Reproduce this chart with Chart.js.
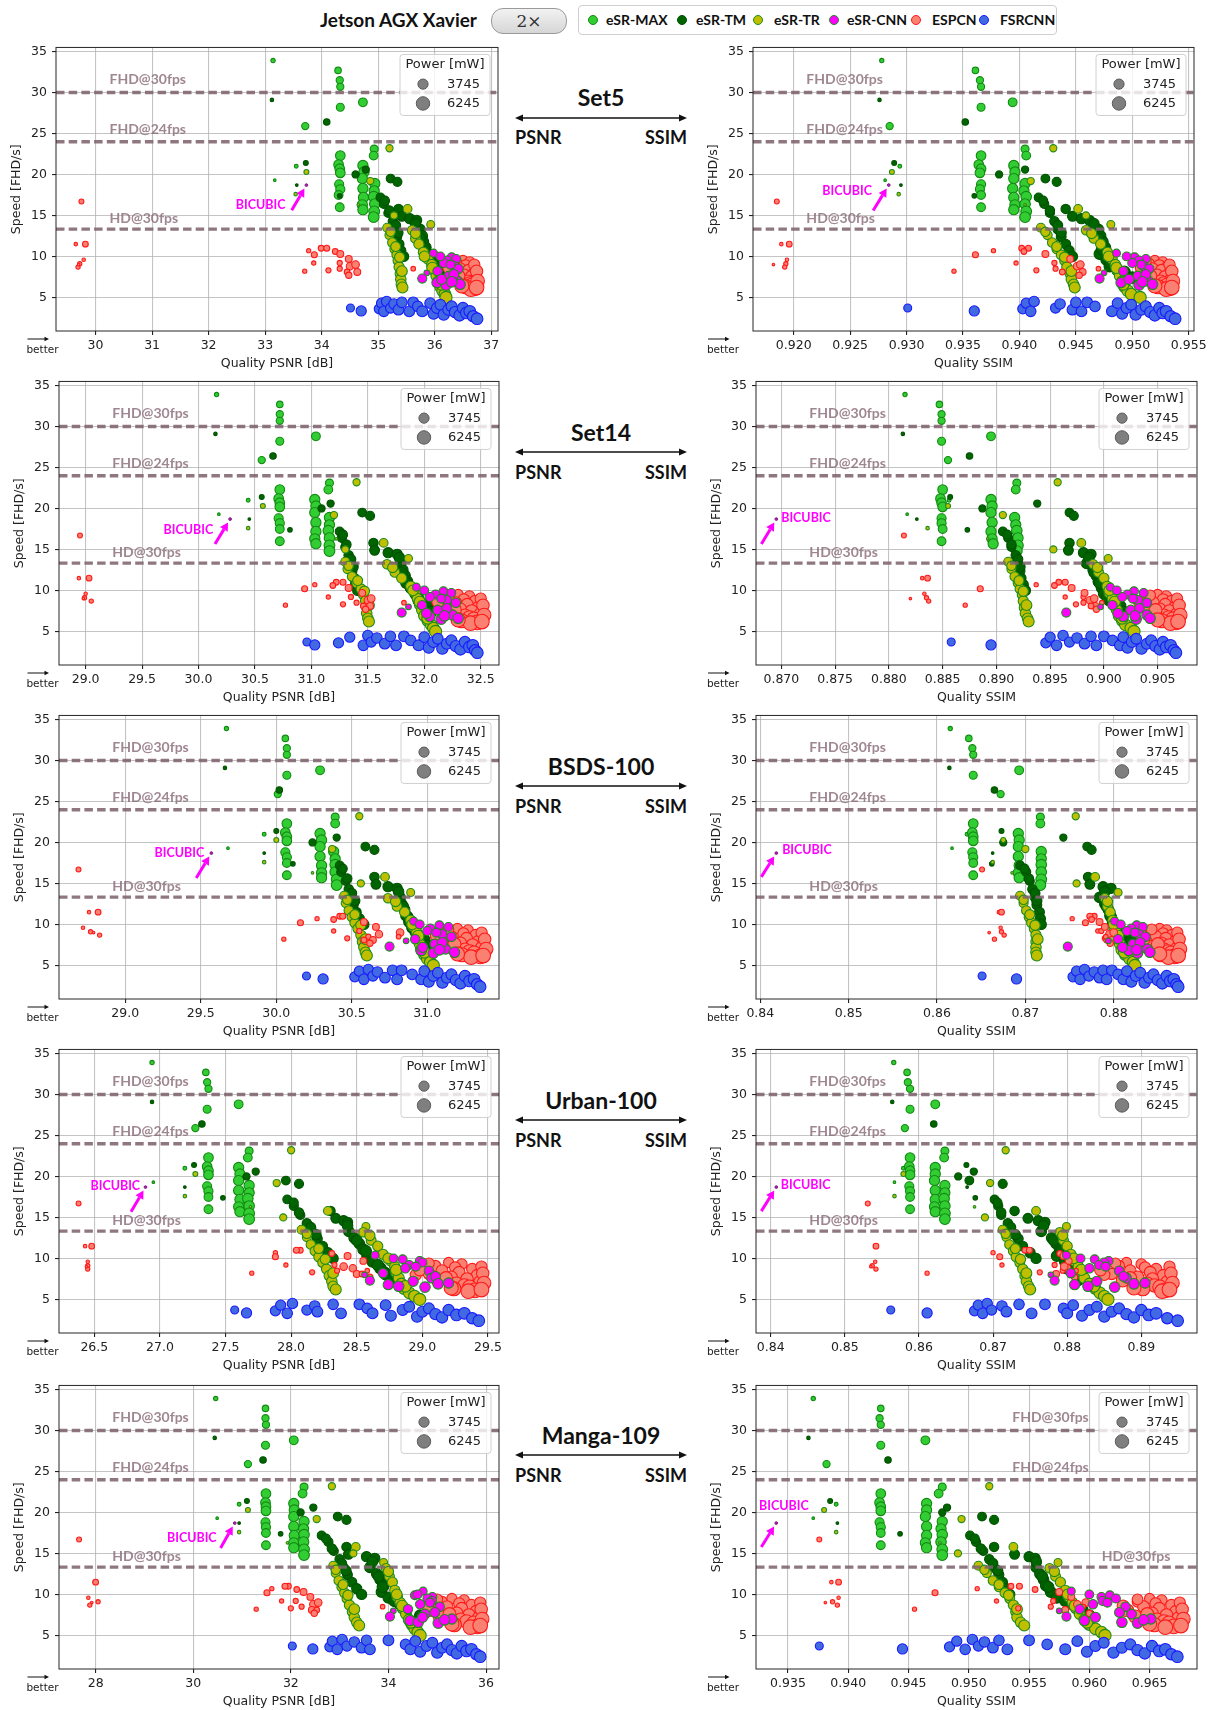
<!DOCTYPE html>
<html>
<head>
<meta charset="utf-8">
<script src="https://cdn.jsdelivr.net/npm/chart.js@4.4.1/dist/chart.umd.min.js"></script>
<style>
  body { margin:0; background:#fff; width:1211px; height:1710px; position:relative; overflow:hidden; font-family:Lato, sans-serif; }
  .abs { position:absolute; white-space:nowrap; }
  .hdr { font-weight:700; font-size:19px; color:#111; }
  .pill { border:1px solid #9a9a9a; border-radius:12px; background:linear-gradient(#f2f2f2,#d6d6d6);
          font-family:'DejaVu Serif', serif; font-size:17px; color:#333; text-align:center; line-height:24px; }
  .lgbox { border:1px solid #cfcfcf; border-radius:4px; background:#fff; }
  .lgdot { width:8px; height:8px; border-radius:50%; }
  .lgtxt { font-weight:700; font-size:14px; color:#111; line-height:18px; }
  .dsname { font-weight:700; font-size:23px; color:#111; }
  .metric { font-weight:700; font-size:18px; color:#111; }
</style>
</head>
<body>
<script>
// speed [FHD/s] and power [mW] of every configuration (same on all test sets)
const SPEED_MAX = [33.9, 32.7, 31.5, 30.7, 28.2, 28.8, 25.9, 21.0, 19.3,
  22.3, 21.2, 20.7, 20.2, 18.8, 18.2, 17.5, 16.0,
  21.1, 20.3, 19.5, 18.3, 17.2, 16.3, 15.7,
  23.1, 22.3, 18.9, 18.0, 17.3, 16.4, 15.5, 14.8];
const POWER_MAX = [830, 1680, 2000, 2000, 2400, 2840, 2000, 690, 290,
  3380, 3380, 3380, 3380, 3030, 3030, 2840, 2840,
  3745, 3745, 3745, 3745, 3745, 3745, 3745,
  2400, 2840, 3745, 3745, 3970, 3970, 4130, 4130];

const SPEED_TM = [29.1, 26.4, 21.4, 18.7, 20.0, 20.6, 17.4, 19.5, 19.1,
  17.2, 16.4, 15.3, 14.3, 13.3, 12.4, 11.5, 10.7, 10.0,
  15.8, 14.9, 14.6, 14.4, 13.3, 12.5, 11.8, 11.1, 10.3, 9.6, 8.8, 8.3, 8.1, 7.4,
  16.8, 15.6, 13.8, 12.9, 14.0, 12.2, 10.9, 9.2];
const POWER_TM = [600, 1680, 1050, 410, 2000, 2000, 940, 2840, 3030,
  2840, 3030, 3030, 3240, 3240, 3520, 3520, 3745, 3745,
  3240, 3520, 3745, 3745, 3970, 3970, 3970, 4290, 4290, 4290, 4530, 4530, 4780, 4780,
  3030, 3240, 3520, 3745, 3970, 4130, 4290, 4530];

const SPEED_TR = [20.3, 17.6, 16.3, 23.2, 19.2, 15.8, 13.9, 15.0,
  13.5, 12.6, 11.7, 10.9, 10.2, 9.5, 8.7, 7.9, 7.2, 6.6, 6.2,
  13.2, 12.2, 11.5, 10.5, 9.7, 9.0, 8.3, 7.6, 6.9, 6.3, 5.8, 5.4, 5.0,
  13.0, 11.2, 9.9, 8.2, 12.8, 10.0, 8.6, 6.6];
const POWER_TR = [1050, 600, 270, 2000, 2000, 2840, 2400, 2000,
  3030, 3030, 3240, 3240, 3520, 3520, 3745, 3745, 3970, 3970, 4290,
  3240, 3520, 3745, 3745, 3970, 3970, 4290, 4290, 4530, 4530, 4780, 4780, 5130,
  3240, 3520, 3745, 4130, 3745, 4130, 4530, 4780];

const SPEED_CNN = [10.4, 9.9, 9.7, 9.5, 9.2, 8.8, 8.5, 8.0, 7.6, 7.3, 7.0, 6.8, 6.6, 6.5,
  10.0, 9.0, 8.2, 7.8, 7.2, 6.9];
const POWER_CNN = [2400, 2840, 2840, 3030, 3030, 3240, 3240, 1350, 3520, 3030, 3745, 3745, 3970, 3970,
  2840, 3030, 3240, 3520, 3745, 3970];

const SPEED_ESPCN = [16.7, 11.5, 11.5, 9.6, 9.1, 8.7, 9.0,
  8.2, 10.7, 10.2, 9.2, 11.0, 11.0, 8.3, 10.6, 10.3, 9.2, 8.5, 9.7, 8.8, 9.0, 8.1, 8.1, 7.7,
  8.5,
  9.5, 9.3, 9.1, 8.9, 8.7, 8.5, 8.3, 8.1, 7.9, 7.7, 7.5, 7.3, 7.1, 6.9, 6.7, 6.5, 6.3, 6.1, 6.0, 8.0,
  9.4, 9.0, 8.6, 8.2, 7.6, 7.0, 6.4, 6.2];
const POWER_ESPCN = [1050, 600, 1350, 600, 830, 830, 230,
  830, 830, 1490, 830, 1350, 1490, 1130, 1350, 1840, 1130, 1130, 1840, 2110, 2220, 1840, 1350, 1580,
  940,
  3745, 4130, 4130, 4530, 4530, 4950, 4950, 4530, 5390, 5390, 5390, 5850, 5850, 6330, 6330, 6830, 6830, 7340, 7340, 4530,
  4130, 4530, 4950, 5390, 5850, 6330, 6830, 7340];

const SPEED_FSRCNN = [3.7, 3.35, 3.6, 4.3, 3.3, 4.5, 3.7, 4.2, 3.5, 4.4, 3.3, 4.4, 3.9, 3.3,
  4.3, 3.0, 3.7, 4.1, 2.9, 3.5, 3.9, 3.2, 2.8, 3.7, 3.1, 3.3, 2.7, 2.4];
const POWER_FSRCNN = [2400, 3745, 3745, 3745, 3970, 3970, 3745, 3970, 4130, 3970, 4130, 4130, 3970, 4290,
  4130, 4290, 4290, 4130, 4530, 4290, 4290, 4530, 4530, 4530, 4780, 4780, 4530, 4780];

const BICUBIC_SPEED = 18.7;
const BICUBIC_POWER = 420;

// quality of each configuration, per test set and metric
const MAX_Q = {
  s5p: [33.14, 34.29, 34.32, 34.33, 34.33, 34.73, 33.71, 33.55, 33.17,
        34.33, 34.30, 34.32, 34.33, 34.31, 34.33, 34.30, 34.32,
        34.73, 34.75, 34.72, 34.73, 34.74, 34.72, 34.73,
        34.93, 34.92, 34.94, 34.93, 34.92, 34.94, 34.93, 34.92],
  s5s: [0.9278, 0.9361, 0.9365, 0.9366, 0.9366, 0.9394, 0.9285, 0.9294, 0.9281,
        0.9366, 0.9364, 0.9366, 0.9365, 0.9366, 0.9365, 0.9366, 0.9366,
        0.9395, 0.9396, 0.9395, 0.9394, 0.9395, 0.9396, 0.9395,
        0.9405, 0.9406, 0.9405, 0.9404, 0.9406, 0.9405, 0.9406, 0.9405],
  s14p: [30.16, 30.72, 30.72, 30.72, 30.72, 31.04, 30.56, 30.44, 30.18,
        30.72, 30.71, 30.72, 30.72, 30.71, 30.72, 30.72, 30.72,
        31.03, 31.04, 31.03, 31.04, 31.04, 31.03, 31.04,
        31.16, 31.15, 31.16, 31.16, 31.15, 31.16, 31.16, 31.16],
  s14s: [0.8815, 0.8847, 0.8849, 0.8849, 0.8849, 0.8895, 0.8855, 0.8856, 0.8817,
        0.8850, 0.8848, 0.8849, 0.8850, 0.8849, 0.8849, 0.8850, 0.8849,
        0.8895, 0.8896, 0.8895, 0.8896, 0.8895, 0.8896, 0.8897,
        0.8919, 0.8918, 0.8917, 0.8918, 0.8919, 0.8920, 0.8920, 0.8919],
  bp: [29.67, 30.06, 30.07, 30.07, 30.07, 30.29, 30.01, 29.92, 29.68,
        30.07, 30.06, 30.07, 30.07, 30.06, 30.07, 30.07, 30.07,
        30.29, 30.30, 30.29, 30.29, 30.30, 30.30, 30.30,
        30.39, 30.39, 30.38, 30.39, 30.39, 30.39, 30.40, 30.40],
  bs: [0.8615, 0.8636, 0.8640, 0.8641, 0.8641, 0.8693, 0.8672, 0.8634, 0.8617,
        0.8641, 0.8640, 0.8641, 0.8641, 0.8640, 0.8641, 0.8641, 0.8641,
        0.8692, 0.8693, 0.8692, 0.8692, 0.8693, 0.8692, 0.8693,
        0.8717, 0.8717, 0.8718, 0.8718, 0.8718, 0.8718, 0.8718, 0.8717],
  up: [26.94, 27.35, 27.36, 27.37, 27.36, 27.60, 27.27, 27.19, 26.95,
        27.37, 27.36, 27.37, 27.37, 27.36, 27.37, 27.37, 27.37,
        27.60, 27.61, 27.60, 27.60, 27.61, 27.60, 27.61,
        27.68, 27.67, 27.68, 27.68, 27.67, 27.68, 27.68, 27.68],
  us: [0.8566, 0.8584, 0.8585, 0.8588, 0.8588, 0.8622, 0.8581, 0.8579, 0.8567,
        0.8588, 0.8587, 0.8588, 0.8588, 0.8587, 0.8588, 0.8588, 0.8588,
        0.8622, 0.8622, 0.8621, 0.8622, 0.8622, 0.8621, 0.8622,
        0.8635, 0.8634, 0.8635, 0.8635, 0.8634, 0.8635, 0.8635, 0.8635],
  mp: [30.46, 31.48, 31.48, 31.49, 31.48, 32.06, 31.12, 30.94, 30.49,
        31.49, 31.48, 31.49, 31.49, 31.48, 31.49, 31.49, 31.49,
        32.06, 32.07, 32.06, 32.06, 32.07, 32.06, 32.06,
        32.27, 32.24, 32.27, 32.26, 32.27, 32.26, 32.27, 32.27],
  ms: [0.9371, 0.9427, 0.9426, 0.9427, 0.9427, 0.9464, 0.9382, 0.9390, 0.9371,
        0.9427, 0.9426, 0.9427, 0.9427, 0.9426, 0.9427, 0.9427, 0.9427,
        0.9465, 0.9465, 0.9464, 0.9465, 0.9465, 0.9464, 0.9465,
        0.9478, 0.9475, 0.9478, 0.9477, 0.9478, 0.9477, 0.9478, 0.9478]
};

const TM_Q = {
  s5p: [33.12, 34.09, 33.72, 33.56, 34.60, 34.78, 34.32, 35.22, 35.34,
        35.04, 35.10, 35.18, 35.26, 35.30, 35.33, 35.37, 35.40, 35.45,
        35.36, 35.42, 35.56, 35.68, 35.74, 35.78, 35.80, 35.84, 35.88, 35.92, 36.00, 36.08, 36.14, 36.12,
        35.12, 35.20, 35.31, 35.35, 35.66, 35.74, 35.82, 35.98],
  s5s: [0.9276, 0.9352, 0.9289, 0.9295, 0.9382, 0.9405, 0.9360, 0.9423, 0.9433,
        0.9417, 0.9422, 0.9427, 0.9431, 0.9434, 0.9437, 0.9441, 0.9444, 0.9447,
        0.9441, 0.9447, 0.9455, 0.9462, 0.9470, 0.9472, 0.9474, 0.9476, 0.9471, 0.9477, 0.9480, 0.9487, 0.9493, 0.9500,
        0.9421, 0.9427, 0.9434, 0.9437, 0.9466, 0.9470, 0.9473, 0.9481],
  s14p: [30.15, 30.66, 30.56, 30.45, 31.09, 31.17, 30.81, 31.45, 31.52,
        31.25, 31.27, 31.30, 31.33, 31.35, 31.36, 31.38, 31.39, 31.41,
        31.55, 31.56, 31.68, 31.76, 31.79, 31.81, 31.83, 31.85, 31.88, 31.92, 31.95, 31.99, 32.04, 32.06,
        31.28, 31.31, 31.35, 31.37, 31.78, 31.80, 31.84, 31.94],
  s14s: [0.8813, 0.8875, 0.8857, 0.8826, 0.8887, 0.8938, 0.8873, 0.8968, 0.8972,
        0.8906, 0.8911, 0.8914, 0.8918, 0.8920, 0.8922, 0.8923, 0.8925, 0.8927,
        0.8968, 0.8967, 0.8981, 0.8988, 0.8984, 0.8990, 0.8993, 0.8995, 0.8998, 0.9000, 0.9005, 0.9012, 0.9015, 0.9018,
        0.8910, 0.8914, 0.8920, 0.8922, 0.8986, 0.8991, 0.8996, 0.9003],
  bp: [29.66, 30.02, 30.00, 29.92, 30.24, 30.40, 30.11, 30.59, 30.65,
        30.42, 30.43, 30.46, 30.48, 30.50, 30.51, 30.53, 30.55, 30.58,
        30.65, 30.66, 30.74, 30.80, 30.82, 30.83, 30.85, 30.86, 30.88, 30.90, 30.93, 30.96, 30.98, 31.00,
        30.44, 30.47, 30.50, 30.52, 30.81, 30.84, 30.87, 30.92],
  bs: [0.8614, 0.8665, 0.8673, 0.8663, 0.8675, 0.8743, 0.8662, 0.8770, 0.8775,
        0.8694, 0.8701, 0.8705, 0.8708, 0.8711, 0.8713, 0.8716, 0.8717, 0.8718,
        0.8771, 0.8773, 0.8788, 0.8797, 0.8784, 0.8790, 0.8794, 0.8796, 0.8799, 0.8801, 0.8811, 0.8817, 0.8820, 0.8822,
        0.8699, 0.8704, 0.8711, 0.8713, 0.8790, 0.8792, 0.8797, 0.8806],
  up: [26.94, 27.32, 27.26, 27.19, 27.66, 27.73, 27.48, 27.96, 28.06,
        27.97, 28.02, 28.07, 28.12, 28.16, 28.20, 28.24, 28.28, 28.32,
        28.30, 28.34, 28.40, 28.43, 28.44, 28.48, 28.52, 28.55, 28.58, 28.62, 28.68, 28.71, 28.72, 28.76,
        28.02, 28.06, 28.15, 28.19, 28.43, 28.50, 28.57, 28.66],
  us: [0.8564, 0.8620, 0.8664, 0.8665, 0.8653, 0.8674, 0.8676, 0.8668, 0.8713,
        0.8702, 0.8707, 0.8711, 0.8720, 0.8725, 0.8734, 0.8740, 0.8750, 0.8758,
        0.8729, 0.8747, 0.8761, 0.8770, 0.8765, 0.8779, 0.8785, 0.8790, 0.8786, 0.8797, 0.8799, 0.8810, 0.8812, 0.8815,
        0.8706, 0.8711, 0.8724, 0.8730, 0.8768, 0.8782, 0.8792, 0.8805],
  mp: [30.44, 31.43, 31.10, 30.94, 32.20, 32.46, 31.79, 32.96, 33.14,
        32.63, 32.77, 32.88, 33.00, 33.08, 33.16, 33.25, 33.35, 33.45,
        33.14, 33.18, 33.55, 33.72, 33.62, 33.76, 33.83, 33.90, 33.86, 34.00, 34.24, 34.30, 34.35, 34.65,
        32.72, 32.84, 33.04, 33.13, 33.67, 33.80, 33.88, 34.12],
  ms: [0.9367, 0.9433, 0.9385, 0.9391, 0.9478, 0.9482, 0.9443, 0.9511, 0.9521,
        0.9501, 0.9506, 0.9512, 0.9517, 0.9521, 0.9525, 0.9528, 0.9531, 0.9534,
        0.9521, 0.9538, 0.9550, 0.9555, 0.9556, 0.9559, 0.9562, 0.9564, 0.9568, 0.9573, 0.9586, 0.9590, 0.9594, 0.9600,
        0.9505, 0.9510, 0.9520, 0.9524, 0.9556, 0.9561, 0.9566, 0.9580]
};

const TR_Q = {
  s5p: [33.73, 33.54, 34.65, 35.20, 34.86, 35.52, 35.93, 35.28,
        35.16, 35.20, 35.25, 35.29, 35.33, 35.35, 35.37, 35.39, 35.40, 35.41, 35.43,
        35.60, 35.66, 35.72, 35.80, 35.88, 35.95, 36.00, 36.03, 36.06, 36.10, 36.14, 36.18, 36.20,
        35.22, 35.31, 35.38, 35.42, 35.66, 35.82, 35.96, 36.12],
  s5s: [0.9287, 0.9293, 0.9405, 0.9430, 0.9410, 0.9452, 0.9481, 0.9459,
        0.9419, 0.9425, 0.9429, 0.9433, 0.9437, 0.9440, 0.9442, 0.9445, 0.9446, 0.9448, 0.9449,
        0.9459, 0.9466, 0.9472, 0.9478, 0.9482, 0.9485, 0.9487, 0.9489, 0.9491, 0.9493, 0.9496, 0.9499, 0.9507,
        0.9423, 0.9433, 0.9440, 0.9446, 0.9464, 0.9479, 0.9486, 0.9492],
  s14p: [30.57, 30.44, 31.22, 31.40, 31.20, 31.64, 31.86, 31.30,
        31.30, 31.32, 31.36, 31.40, 31.44, 31.46, 31.48, 31.49, 31.49, 31.50, 31.51,
        31.67, 31.74, 31.80, 31.88, 31.92, 31.94, 31.96, 31.98, 32.00, 32.03, 32.06, 32.08, 32.10,
        31.33, 31.41, 31.47, 31.51, 31.72, 31.90, 31.96, 32.03],
  s14s: [0.8855, 0.8836, 0.8892, 0.8957, 0.8906, 0.8979, 0.9004, 0.8953,
        0.8911, 0.8914, 0.8917, 0.8920, 0.8922, 0.8924, 0.8925, 0.8926, 0.8927, 0.8929, 0.8930,
        0.8990, 0.8995, 0.9000, 0.9003, 0.9005, 0.9008, 0.9010, 0.9012, 0.9014, 0.9017, 0.9020, 0.9025, 0.9028,
        0.8914, 0.8921, 0.8925, 0.8928, 0.8994, 0.9005, 0.9010, 0.9017],
  bp: [30.00, 29.92, 30.24, 30.55, 30.37, 30.72, 30.89, 30.56,
        30.45, 30.46, 30.48, 30.50, 30.52, 30.54, 30.56, 30.57, 30.58, 30.59, 30.60,
        30.74, 30.80, 30.85, 30.89, 30.91, 30.93, 30.94, 30.95, 30.96, 30.98, 31.00, 31.02, 31.04,
        30.47, 30.52, 30.56, 30.59, 30.79, 30.90, 30.94, 30.98],
  bs: [0.8675, 0.8663, 0.8685, 0.8757, 0.8700, 0.8779, 0.8805, 0.8758,
        0.8694, 0.8698, 0.8701, 0.8704, 0.8707, 0.8710, 0.8712, 0.8712, 0.8712, 0.8712, 0.8713,
        0.8790, 0.8793, 0.8796, 0.8799, 0.8800, 0.8803, 0.8805, 0.8807, 0.8809, 0.8813, 0.8818, 0.8822, 0.8824,
        0.8698, 0.8705, 0.8711, 0.8714, 0.8793, 0.8800, 0.8805, 0.8812],
  up: [27.27, 27.19, 27.69, 28.00, 27.89, 28.28, 28.57, 27.94,
        28.08, 28.12, 28.15, 28.18, 28.21, 28.24, 28.27, 28.29, 28.31, 28.32, 28.34,
        28.55, 28.61, 28.66, 28.70, 28.76, 28.79, 28.80, 28.82, 28.84, 28.86, 28.90, 28.94, 28.98,
        28.12, 28.21, 28.26, 28.32, 28.60, 28.74, 28.80, 28.87],
  us: [0.8579, 0.8567, 0.8675, 0.8717, 0.8696, 0.8758, 0.8799, 0.8689,
        0.8713, 0.8718, 0.8722, 0.8727, 0.8731, 0.8736, 0.8740, 0.8743, 0.8745, 0.8748, 0.8750,
        0.8790, 0.8795, 0.8800, 0.8805, 0.8810, 0.8815, 0.8820, 0.8823, 0.8830, 0.8838, 0.8844, 0.8850, 0.8855,
        0.8717, 0.8730, 0.8737, 0.8745, 0.8794, 0.8809, 0.8819, 0.8836],
  mp: [31.12, 30.94, 31.93, 32.84, 32.53, 33.33, 33.90, 33.28,
        32.87, 32.92, 32.98, 33.04, 33.10, 33.15, 33.20, 33.26, 33.30, 33.35, 33.40,
        33.95, 34.02, 34.08, 34.13, 34.18, 34.24, 34.30, 34.36, 34.42, 34.48, 34.54, 34.60, 34.65,
        32.92, 33.07, 33.17, 33.30, 34.00, 34.17, 34.28, 34.46],
  ms: [0.9380, 0.9390, 0.9476, 0.9517, 0.9494, 0.9537, 0.9574, 0.9491,
        0.9508, 0.9515, 0.9520, 0.9525, 0.9530, 0.9534, 0.9537, 0.9539, 0.9540, 0.9543, 0.9546,
        0.9567, 0.9572, 0.9576, 0.9580, 0.9583, 0.9586, 0.9589, 0.9592, 0.9596, 0.9600, 0.9605, 0.9610, 0.9613,
        0.9513, 0.9525, 0.9533, 0.9540, 0.9571, 0.9582, 0.9588, 0.9598]
};

const CNN_Q = {
  s5p: [35.98, 36.30, 36.38, 36.22, 36.16, 36.35, 36.42, 35.86, 36.25, 35.78, 36.40, 36.04, 36.45, 36.20,
        36.10, 36.28, 36.05, 36.34, 36.12, 36.30],
  s5s: [0.9486, 0.9502, 0.9512, 0.9506, 0.9500, 0.9510, 0.9515, 0.9475, 0.9505, 0.9471, 0.9514, 0.9490, 0.9518, 0.9506,
        0.9495, 0.9508, 0.9492, 0.9512, 0.9497, 0.9509],
  s14p: [31.93, 32.17, 32.24, 32.10, 32.05, 32.20, 32.28, 31.86, 32.12, 31.80, 32.25, 32.05, 32.30, 32.15,
        32.00, 32.15, 31.98, 32.20, 32.02, 32.18],
  s14s: [0.9006, 0.9028, 0.9037, 0.9022, 0.9017, 0.9032, 0.9040, 0.8997, 0.9025, 0.8965, 0.9040, 0.9018, 0.9043, 0.9030,
        0.9012, 0.9027, 0.9008, 0.9033, 0.9013, 0.9029],
  bp: [30.91, 31.08, 31.14, 31.02, 31.00, 31.10, 31.16, 30.86, 31.05, 30.75, 31.12, 30.96, 31.18, 31.04,
        30.95, 31.06, 30.92, 31.10, 30.97, 31.08],
  bs: [0.8801, 0.8826, 0.8833, 0.8820, 0.8815, 0.8829, 0.8836, 0.8794, 0.8822, 0.8748, 0.8838, 0.8817, 0.8841, 0.8827,
        0.8808, 0.8824, 0.8805, 0.8830, 0.8810, 0.8826],
  up: [28.64, 28.85, 28.98, 29.00, 28.90, 28.87, 29.05, 28.56, 29.07, 28.60, 29.20, 28.74, 28.82, 29.02,
        28.78, 28.95, 28.70, 29.10, 28.93, 29.12],
  us: [0.8799, 0.8837, 0.8856, 0.8850, 0.8843, 0.8830, 0.8870, 0.8778, 0.8880, 0.8783, 0.8905, 0.8810, 0.8828, 0.8864,
        0.8818, 0.8852, 0.8805, 0.8876, 0.8840, 0.8890],
  mp: [34.71, 34.54, 34.90, 34.80, 34.89, 34.65, 35.05, 34.10, 34.75, 34.03, 35.30, 34.44, 34.61, 35.02,
        34.60, 34.85, 34.40, 34.95, 34.70, 35.15],
  ms: [0.9585, 0.9617, 0.9610, 0.9622, 0.9611, 0.9603, 0.9630, 0.9575, 0.9635, 0.9581, 0.9651, 0.9596, 0.9627, 0.9640,
        0.9600, 0.9615, 0.9592, 0.9625, 0.9605, 0.9645]
};

const ESPCN_Q = {
  s5p: [29.75, 29.65, 29.82, 29.79, 29.72, 29.69, 29.70,
        33.70, 33.77, 33.87, 33.86, 33.99, 34.09, 34.12, 34.24, 34.33, 34.32, 34.32, 34.48, 34.50, 34.60, 34.63, 34.45, 34.48,
        35.62,
        36.50, 36.62, 36.40, 36.55, 36.68, 36.45, 36.60, 36.30, 36.70, 36.52, 36.65, 36.38, 36.72, 36.58, 36.62, 36.66, 36.55, 36.70, 36.64, 36.35,
        36.35, 36.70, 36.25, 36.74, 36.42, 36.76, 36.48, 36.74],
  s5s: [0.9185, 0.9189, 0.9196, 0.9194, 0.9193, 0.9192, 0.9182,
        0.9342, 0.9377, 0.9361, 0.9397, 0.9402, 0.9408, 0.9415, 0.9404, 0.9423, 0.9431, 0.9432, 0.9445, 0.9451, 0.9454, 0.9456, 0.9438, 0.9453,
        0.9470,
        0.9520, 0.9527, 0.9515, 0.9524, 0.9531, 0.9518, 0.9526, 0.9510, 0.9533, 0.9522, 0.9529, 0.9514, 0.9534, 0.9525, 0.9528, 0.9531, 0.9523, 0.9533, 0.9530, 0.9508,
        0.9512, 0.9533, 0.9508, 0.9535, 0.9516, 0.9536, 0.9520, 0.9535],
  s14p: [28.95, 28.94, 29.03, 29.00, 28.99, 29.05, 28.98,
        30.77, 31.03, 30.94, 31.15, 31.22, 31.28, 31.28, 31.19, 31.33, 31.35, 31.40, 31.45, 31.50, 31.53, 31.52, 31.46, 31.48,
        31.82,
        32.30, 32.40, 32.22, 32.35, 32.45, 32.28, 32.38, 32.15, 32.48, 32.32, 32.42, 32.20, 32.50, 32.36, 32.40, 32.44, 32.33, 32.47, 32.41, 32.18,
        32.22, 32.50, 32.12, 32.52, 32.27, 32.53, 32.30, 32.51],
  s14s: [0.8814, 0.8831, 0.8836, 0.8833, 0.8835, 0.8837, 0.8820,
        0.8871, 0.8937, 0.8885, 0.8964, 0.8958, 0.8964, 0.8974, 0.8954, 0.8970, 0.8981, 0.8981, 0.8982, 0.8987, 0.8991, 0.8992, 0.8988, 0.8993,
        0.8998,
        0.9050, 0.9058, 0.9040, 0.9055, 0.9063, 0.9046, 0.9057, 0.9035, 0.9066, 0.9052, 0.9061, 0.9042, 0.9068, 0.9056, 0.9060, 0.9064, 0.9054, 0.9067, 0.9062, 0.9038,
        0.9043, 0.9068, 0.9033, 0.9070, 0.9048, 0.9071, 0.9050, 0.9069],
  bp: [28.69, 28.76, 28.82, 28.72, 28.77, 28.83, 28.79,
        30.05, 30.27, 30.16, 30.38, 30.42, 30.44, 30.47, 30.38, 30.58, 30.55, 30.61, 30.66, 30.68, 30.82, 30.64, 30.58, 30.62,
        30.81,
        31.20, 31.27, 31.12, 31.24, 31.32, 31.16, 31.26, 31.08, 31.34, 31.22, 31.30, 31.14, 31.36, 31.25, 31.28, 31.31, 31.23, 31.35, 31.29, 31.10,
        31.14, 31.36, 31.06, 31.38, 31.18, 31.39, 31.20, 31.37],
  bs: [0.8651, 0.8670, 0.8673, 0.8672, 0.8673, 0.8676, 0.8659,
        0.8665, 0.8753, 0.8768, 0.8782, 0.8778, 0.8773, 0.8790, 0.8775, 0.8784, 0.8786, 0.8793, 0.8790, 0.8795, 0.8800, 0.8798, 0.8792, 0.8796,
        0.8791,
        0.8852, 0.8860, 0.8842, 0.8856, 0.8866, 0.8848, 0.8859, 0.8836, 0.8870, 0.8854, 0.8863, 0.8845, 0.8872, 0.8857, 0.8861, 0.8865, 0.8853, 0.8869, 0.8862, 0.8834,
        0.8843, 0.8872, 0.8832, 0.8874, 0.8850, 0.8875, 0.8852, 0.8873],
  up: [26.38, 26.43, 26.48, 26.45, 26.45, 26.45, 26.44,
        27.70, 27.88, 27.88, 27.96, 28.07, 28.04, 28.16, 28.31, 28.43, 28.33, 28.35, 28.55, 28.47, 28.40, 28.50, 28.54, 28.60,
        28.58,
        29.20, 29.30, 29.10, 29.25, 29.38, 29.15, 29.28, 29.05, 29.42, 29.22, 29.34, 29.12, 29.44, 29.26, 29.32, 29.36, 29.24, 29.40, 29.35, 28.95,
        29.05, 29.45, 28.98, 29.46, 29.18, 29.47, 29.22, 29.45],
  us: [0.8531, 0.8541, 0.8542, 0.8541, 0.8537, 0.8542, 0.8535,
        0.8611, 0.8700, 0.8709, 0.8712, 0.8743, 0.8749, 0.8763, 0.8790, 0.8795, 0.8783, 0.8794, 0.8802, 0.8800, 0.8796, 0.8785, 0.8805, 0.8810,
        0.8812,
        0.8880, 0.8900, 0.8870, 0.8905, 0.8920, 0.8885, 0.8912, 0.8860, 0.8930, 0.8895, 0.8915, 0.8875, 0.8935, 0.8908, 0.8918, 0.8925, 0.8902, 0.8932, 0.8928, 0.8850,
        0.8865, 0.8938, 0.8845, 0.8940, 0.8885, 0.8942, 0.8890, 0.8938],
  mp: [27.66, 27.98, 28.00, 27.85, 28.05, 27.88, 27.92,
        31.29, 31.61, 31.51, 31.81, 31.95, 31.88, 32.00, 32.12, 32.26, 32.10, 32.22, 32.40, 32.46, 32.56, 32.43, 32.53, 32.48,
        33.88,
        35.30, 35.55, 35.10, 35.45, 35.70, 35.20, 35.50, 34.95, 35.80, 35.40, 35.65, 35.05, 35.85, 35.48, 35.60, 35.75, 35.35, 35.82, 35.68, 34.85,
        35.00, 35.88, 34.80, 35.90, 35.25, 35.92, 35.30, 35.88],
  ms: [0.9376, 0.9386, 0.9392, 0.9392, 0.9387, 0.9391, 0.9381,
        0.9455, 0.9507, 0.9472, 0.9523, 0.9535, 0.9542, 0.9541, 0.9555, 0.9575, 0.9570, 0.9568, 0.9585, 0.9590, 0.9597, 0.9580, 0.9592, 0.9600,
        0.9595,
        0.9650, 0.9660, 0.9640, 0.9655, 0.9668, 0.9645, 0.9658, 0.9632, 0.9672, 0.9652, 0.9664, 0.9638, 0.9674, 0.9656, 0.9662, 0.9666, 0.9654, 0.9670, 0.9663, 0.9630,
        0.9640, 0.9675, 0.9628, 0.9677, 0.9648, 0.9678, 0.9650, 0.9676]
};

const FSRCNN_Q = {
  s5p: [34.51, 34.70, 35.02, 35.06, 35.10, 35.15, 35.22, 35.28, 35.36, 35.42, 35.55, 35.62, 35.70, 35.78,
        35.92, 35.98, 36.04, 36.10, 36.16, 36.24, 36.30, 36.36, 36.44, 36.50, 36.56, 36.62, 36.68, 36.75],
  s5s: [0.9301, 0.9360, 0.9403, 0.9406, 0.9410, 0.9413, 0.9432, 0.9436, 0.9447, 0.9450, 0.9455, 0.9460, 0.9467, 0.9482,
        0.9487, 0.9491, 0.9495, 0.9499, 0.9503, 0.9508, 0.9512, 0.9516, 0.9520, 0.9524, 0.9527, 0.9530, 0.9534, 0.9538],
  s14p: [30.96, 31.03, 31.24, 31.34, 31.46, 31.50, 31.53, 31.58, 31.65, 31.70, 31.75, 31.82, 31.88, 31.95,
        32.00, 32.04, 32.08, 32.12, 32.16, 32.20, 32.24, 32.28, 32.32, 32.36, 32.40, 32.43, 32.45, 32.47],
  s14s: [0.8858, 0.8895, 0.8946, 0.8950, 0.8956, 0.8962, 0.8968, 0.8975, 0.8982, 0.8988, 0.8993, 0.9000, 0.9008, 0.9015,
        0.9018, 0.9022, 0.9026, 0.9030, 0.9035, 0.9040, 0.9044, 0.9048, 0.9052, 0.9055, 0.9058, 0.9062, 0.9065, 0.9067],
  bp: [30.20, 30.31, 30.52, 30.55, 30.58, 30.61, 30.64, 30.67, 30.72, 30.77, 30.80, 30.83, 30.90, 30.96,
        30.98, 31.01, 31.04, 31.07, 31.10, 31.13, 31.16, 31.19, 31.22, 31.25, 31.28, 31.31, 31.33, 31.35],
  bs: [0.8651, 0.8690, 0.8754, 0.8758, 0.8762, 0.8767, 0.8772, 0.8778, 0.8784, 0.8788, 0.8792, 0.8798, 0.8805, 0.8811,
        0.8815, 0.8820, 0.8825, 0.8830, 0.8835, 0.8840, 0.8845, 0.8850, 0.8855, 0.8860, 0.8864, 0.8868, 0.8871, 0.8873],
  up: [27.57, 27.66, 27.88, 27.92, 27.97, 28.01, 28.12, 28.18, 28.20, 28.32, 28.38, 28.52, 28.58, 28.62,
        28.72, 28.76, 28.85, 28.90, 28.96, 29.00, 29.05, 29.10, 29.15, 29.20, 29.26, 29.32, 29.38, 29.43],
  us: [0.8562, 0.8611, 0.8675, 0.8680, 0.8686, 0.8692, 0.8698, 0.8712, 0.8718, 0.8735, 0.8752, 0.8770, 0.8795, 0.8800,
        0.8808, 0.8820, 0.8830, 0.8840, 0.8850, 0.8860, 0.8870, 0.8880, 0.8890, 0.8900, 0.8910, 0.8920, 0.8935, 0.8949],
  mp: [32.03, 32.45, 32.80, 32.85, 32.95, 33.05, 33.15, 33.30, 33.45, 33.55, 33.62, 34.00, 34.35, 34.45,
        34.55, 34.65, 34.78, 34.90, 35.00, 35.10, 35.20, 35.30, 35.40, 35.50, 35.60, 35.70, 35.80, 35.88],
  ms: [0.9376, 0.9445, 0.9484, 0.9490, 0.9497, 0.9503, 0.9508, 0.9513, 0.9520, 0.9525, 0.9532, 0.9550, 0.9565, 0.9580,
        0.9590, 0.9598, 0.9605, 0.9612, 0.9620, 0.9627, 0.9634, 0.9640, 0.9646, 0.9652, 0.9658, 0.9663, 0.9668, 0.9673]
};

const BICUBIC_Q = { s5p: 33.73, s5s: 0.92842, s14p: 30.28, s14s: 0.86953, bp: 29.57,
  bs: 0.84181, up: 26.89, us: 0.84076, mp: 30.85, ms: 0.93403 };

// reference throughput lines
const REF_SPEEDS = [30, 24, 13.33];
const REF_LABELS = ['FHD@30fps', 'FHD@24fps', 'HD@30fps'];
const POWER_LEGEND = [3745, 6245];

// tick values
const Y_TICKS = [5, 10, 15, 20, 25, 30, 35];
const XT_S5P = [30, 31, 32, 33, 34, 35, 36, 37];
const XT_S5S = [0.920, 0.925, 0.930, 0.935, 0.940, 0.945, 0.950, 0.955];
const XT_S14P = [29.0, 29.5, 30.0, 30.5, 31.0, 31.5, 32.0, 32.5];
const XT_S14S = [0.870, 0.875, 0.880, 0.885, 0.890, 0.895, 0.900, 0.905];
const XT_BP = [29.0, 29.5, 30.0, 30.5, 31.0];
const XT_BS = [0.84, 0.85, 0.86, 0.87, 0.88];
const XT_UP = [26.5, 27.0, 27.5, 28.0, 28.5, 29.0, 29.5];
const XT_US = [0.84, 0.85, 0.86, 0.87, 0.88, 0.89];
const XT_MP = [28, 30, 32, 34, 36];
const XT_MS = [0.935, 0.940, 0.945, 0.950, 0.955, 0.960, 0.965];

const DATASET_NAMES = ['Set5', 'Set14', 'BSDS-100', 'Urban-100', 'Manga-109'];

// layout
const ROW_TOPS = [45, 379.3, 713.3, 1047.3, 1382.7];
const AX_H = 286;
const PAD_R = 26;
const STD_FRAC = [0.121, 0.121, 0.121];
const PANELS = [
  {key:'s5p', row:0, col:0, left:55.7, width:441.6, xmin:29.30, xmax:37.12, xt:XT_S5P, dec:0, metric:'PSNR', frac:STD_FRAC,
   bic:{tx:32.92, ty:16.3, ax:33.47, ay:15.62}},
  {key:'s5s', row:0, col:1, left:752.7, width:440.6, xmin:0.91639, xmax:0.95547, xt:XT_S5S, dec:3, metric:'SSIM', frac:STD_FRAC,
   bic:{tx:0.92473, ty:18.0, ax:0.92704, ay:15.6}},
  {key:'s14p', row:1, col:0, left:59, width:440, xmin:28.764, xmax:32.662, xt:XT_S14P, dec:1, metric:'PSNR', frac:STD_FRAC,
   bic:{tx:29.91, ty:17.36, ax:30.146, ay:15.67}},
  {key:'s14s', row:1, col:1, left:756.3, width:441, xmin:0.86764, xmax:0.90866, xt:XT_S14S, dec:3, metric:'SSIM', frac:STD_FRAC,
   bic:{tx:0.87229, ty:18.85, ax:0.86814, ay:15.67}},
  {key:'bp', row:2, col:0, left:59, width:440, xmin:28.561, xmax:31.475, xt:XT_BP, dec:1, metric:'PSNR', frac:STD_FRAC,
   bic:{tx:29.358, ty:18.73, ax:29.47, ay:15.67}},
  {key:'bs', row:2, col:1, left:756.3, width:441, xmin:0.83951, xmax:0.88943, xt:XT_BS, dec:2, metric:'SSIM', frac:STD_FRAC,
   bic:{tx:0.84528, ty:19.05, ax:0.84011, ay:15.8}},
  {key:'up', row:3, col:0, left:59, width:440, xmin:26.231, xmax:29.584, xt:XT_UP, dec:1, metric:'PSNR', frac:STD_FRAC,
   bic:{tx:26.66, ty:18.87, ax:26.78, ay:15.69}},
  {key:'us', row:3, col:1, left:756.3, width:441, xmin:0.83802, xmax:0.89751, xt:XT_US, dec:2, metric:'SSIM', frac:STD_FRAC,
   bic:{tx:0.84472, ty:18.95, ax:0.83874, ay:15.77}},
  {key:'mp', row:4, col:0, left:59, width:440, xmin:27.249, xmax:36.265, xt:XT_MP, dec:0, metric:'PSNR', frac:STD_FRAC,
   bic:{tx:29.97, ty:16.88, ax:30.56, ay:15.67}},
  {key:'ms', row:4, col:1, left:756.3, width:441, xmin:0.93235, xmax:0.96893, xt:XT_MS, dec:3, metric:'SSIM', frac:[0.581, 0.581, 0.784],
   bic:{tx:0.93467, ty:20.82, ax:0.93279, ay:15.79}}
];

const SERIES = [
  {label:'eSR-MAX', speed:SPEED_MAX, power:POWER_MAX, q:MAX_Q, fill:'#32cd32', edge:'#128a12', order:6},
  {label:'eSR-TM', speed:SPEED_TM, power:POWER_TM, q:TM_Q, fill:'#006400', edge:'#005200', order:5},
  {label:'eSR-TR', speed:SPEED_TR, power:POWER_TR, q:TR_Q, fill:'#bfbf00', edge:'#1e8c1e', order:4},
  {label:'eSR-CNN', speed:SPEED_CNN, power:POWER_CNN, q:CNN_Q, fill:'#ff00ff', edge:'#1e8c1e', order:2},
  {label:'ESPCN', speed:SPEED_ESPCN, power:POWER_ESPCN, q:ESPCN_Q, fill:'#fa8072', edge:'#ff1a1a', order:3},
  {label:'FSRCNN', speed:SPEED_FSRCNN, power:POWER_FSRCNN, q:FSRCNN_Q, fill:'#4169e1', edge:'#1a1aff', order:1}
];

function radiusOf(p) { return Math.max(1.3, 5.6 * Math.sqrt(p / 3745) - 0.5); }

// ---------- header ----------
function el(html) { document.body.insertAdjacentHTML('beforeend', html); }
el('<div class="abs hdr" style="left:320px;top:7px;line-height:26px">Jetson AGX Xavier</div>');
el('<div class="abs pill" style="left:491px;top:8px;width:74px;height:24px">2\u00d7</div>');
el('<div class="abs lgbox" style="left:578px;top:5px;width:477px;height:28px"></div>');
const LG_DOT_X = [592, 681, 757, 833, 915.6, 983.7];
const LG_TXT_X = [606, 696, 774, 847, 932, 1000];
SERIES.forEach((s, i) => {
  el(`<div class="abs lgdot" style="left:${LG_DOT_X[i]-4.5}px;top:15px;background:${s.fill};border:1px solid ${s.edge}"></div>`);
  el(`<div class="abs lgtxt" style="left:${LG_TXT_X[i]}px;top:10.5px">${s.label}</div>`);
});

// ---------- middle labels ----------
ROW_TOPS.forEach((top, r) => {
  el(`<div class="abs dsname" style="left:501px;width:200px;text-align:center;top:${top+52.3-15}px;line-height:30px">${DATASET_NAMES[r]}</div>`);
  el(`<svg class="abs" style="left:515px;top:${top+72.7-6}px" width="172" height="12">
        <line x1="6" y1="6" x2="166" y2="6" stroke="#111" stroke-width="1.3"/>
        <polygon points="0,6 8,2.6 8,9.4" fill="#111"/><polygon points="172,6 164,2.6 164,9.4" fill="#111"/></svg>`);
  el(`<div class="abs metric" style="left:515px;top:${top+92.3-12}px;line-height:24px">PSNR</div>`);
  el(`<div class="abs metric" style="left:587px;width:100px;text-align:right;top:${top+92.3-12}px;line-height:24px">SSIM</div>`);
});

// ---------- panels ----------
const BETTER_X = [42.5, 723];

function makeOverlay(p, cvLeft) {
  return {
    id: 'overlay',
    afterDatasetsDraw(chart) {
      const {ctx, chartArea: a, scales: {x, y}} = chart;
      const w = a.right - a.left;
      ctx.save();
      ctx.beginPath(); ctx.rect(a.left, a.top, w, a.bottom - a.top); ctx.clip();
      ctx.strokeStyle = 'rgba(128,100,112,0.88)';
      ctx.lineWidth = 3.4; ctx.setLineDash([8.5, 4.2]);
      REF_SPEEDS.forEach(v => {
        const py = y.getPixelForValue(v);
        ctx.beginPath(); ctx.moveTo(a.left, py); ctx.lineTo(a.right, py); ctx.stroke();
      });
      ctx.setLineDash([]);
      // reference labels
      ctx.font = 'bold 14px Lato'; ctx.fillStyle = 'rgba(135,105,118,0.8)';
      ctx.textAlign = 'left'; ctx.textBaseline = 'middle';
      const lift = [13.5, 12.5, 10.5];
      REF_LABELS.forEach((t, i) => {
        ctx.fillText(t, a.left + p.frac[i] * w, y.getPixelForValue(REF_SPEEDS[i]) - lift[i]);
      });
      // bicubic annotation
      const b = p.bic;
      const px = x.getPixelForValue(BICUBIC_Q[p.key]), py = y.getPixelForValue(BICUBIC_SPEED);
      const tx = x.getPixelForValue(b.ax), ty = y.getPixelForValue(b.ay);
      const dx = px - tx, dy = py - ty, len = Math.hypot(dx, dy), ux = dx / len, uy = dy / len;
      const tipX = px - ux * 4, tipY = py - uy * 4;
      const bx = tipX - ux * 8, by = tipY - uy * 8;
      ctx.strokeStyle = '#ff00ff'; ctx.fillStyle = '#ff00ff'; ctx.lineWidth = 3;
      ctx.beginPath(); ctx.moveTo(tx, ty); ctx.lineTo(bx, by); ctx.stroke();
      ctx.beginPath(); ctx.moveTo(tipX, tipY);
      ctx.lineTo(bx - uy * 4.5, by + ux * 4.5); ctx.lineTo(bx + uy * 4.5, by - ux * 4.5);
      ctx.closePath(); ctx.fill();
      ctx.font = 'bold 12.5px Lato'; ctx.textAlign = 'center';
      ctx.fillText('BICUBIC', x.getPixelForValue(b.tx), y.getPixelForValue(b.ty));
      ctx.restore();
    },
    afterDraw(chart) {
      const {ctx, chartArea: a} = chart;
      ctx.save();
      // frame
      ctx.strokeStyle = '#262626'; ctx.lineWidth = 1;
      ctx.strokeRect(a.left, a.top, a.right - a.left, a.bottom - a.top);
      // power legend
      const bx = a.right - 98, by = a.top + 7, bw = 90, bh = 61;
      ctx.beginPath(); ctx.roundRect(bx, by, bw, bh, 3);
      ctx.fillStyle = 'rgba(255,255,255,0.8)'; ctx.fill();
      ctx.strokeStyle = '#d0d0d0'; ctx.stroke();
      ctx.fillStyle = '#222'; ctx.font = '13px "DejaVu Sans"';
      ctx.textAlign = 'center'; ctx.textBaseline = 'middle';
      ctx.fillText('Power [mW]', bx + bw / 2, by + 10.5);
      POWER_LEGEND.forEach((pw, i) => {
        const cy = by + 29.7 + i * 19.3;
        ctx.beginPath(); ctx.arc(bx + 23, cy, radiusOf(pw), 0, Math.PI * 2);
        ctx.fillStyle = '#7f7f7f'; ctx.fill();
        ctx.strokeStyle = '#5a5a5a'; ctx.lineWidth = 1; ctx.stroke();
        ctx.fillStyle = '#222'; ctx.textAlign = 'right';
        ctx.fillText(String(pw), bx + 80, cy);
      });
      // axis titles
      ctx.font = '12.5px "DejaVu Sans"'; ctx.fillStyle = '#222'; ctx.textAlign = 'center';
      ctx.fillText(p.metric === 'PSNR' ? 'Quality PSNR [dB]' : 'Quality SSIM', (a.left + a.right) / 2, a.bottom + 33);
      ctx.save();
      ctx.translate(a.left - 39, (a.top + a.bottom) / 2); ctx.rotate(-Math.PI / 2);
      ctx.fillText('Speed [FHD/s]', 0, 0);
      ctx.restore();
      // "better" hint
      const cx = BETTER_X[p.col] - cvLeft;
      const ay = a.bottom + 8;
      ctx.strokeStyle = '#111'; ctx.fillStyle = '#111'; ctx.lineWidth = 1;
      ctx.beginPath(); ctx.moveTo(cx - 15, ay); ctx.lineTo(cx + 3, ay); ctx.stroke();
      ctx.beginPath(); ctx.moveTo(cx + 6.5, ay); ctx.lineTo(cx + 2, ay - 2.2); ctx.lineTo(cx + 2, ay + 2.2); ctx.closePath(); ctx.fill();
      ctx.font = '10.5px "DejaVu Sans"'; ctx.fillStyle = '#222';
      ctx.fillText('better', cx, a.bottom + 19.5);
      ctx.restore();
    }
  };
}

PANELS.forEach(p => {
  const top = ROW_TOPS[p.row];
  const cvLeft = Math.round(p.left - 60), cvTop = Math.round(top - 6);
  const W = Math.round(p.width + 60 + PAD_R), H = AX_H + 54;
  const cv = document.createElement('canvas');
  cv.width = W; cv.height = H;
  cv.style.cssText = `position:absolute;left:${cvLeft}px;top:${cvTop}px;width:${W}px;height:${H}px`;
  document.body.appendChild(cv);

  const datasets = SERIES.map(s => ({
    label: s.label, order: s.order,
    data: s.q[p.key].map((q, i) => ({x: q, y: s.speed[i]})),
    pointRadius: s.power.map(radiusOf),
    backgroundColor: s.fill, borderColor: s.edge, borderWidth: 1.1
  }));
  datasets.push({
    label: 'BICUBIC', order: 0,
    data: [{x: BICUBIC_Q[p.key], y: BICUBIC_SPEED}],
    pointRadius: radiusOf(BICUBIC_POWER),
    backgroundColor: '#c010c0', borderColor: '#7a237a', borderWidth: 1
  });

  const tickFont = {family: 'DejaVu Sans', size: 12.5};
  new Chart(cv, {
    type: 'scatter',
    data: {datasets},
    options: {
      responsive: false, animation: false, events: [], devicePixelRatio: 1,
      layout: {padding: {left: 0, top: 6, right: PAD_R, bottom: 0}},
      plugins: {legend: {display: false}, tooltip: {enabled: false}},
      scales: {
        x: {
          type: 'linear', position: 'bottom', min: p.xmin, max: p.xmax,
          afterBuildTicks: sc => { sc.ticks = p.xt.map(v => ({value: v})); },
          afterFit: sc => { sc.height = 48; sc.paddingLeft = 0; sc.paddingRight = 0; },
          ticks: {autoSkip: false, maxRotation: 0, padding: 3, color: '#222', font: tickFont,
                  callback: v => Number(v).toFixed(p.dec)},
          grid: {color: 'rgba(176,176,176,0.75)', lineWidth: 1.1, tickColor: '#222', tickLength: 4},
          border: {display: false}
        },
        y: {
          type: 'linear', position: 'left', min: 0.9, max: 35.5,
          afterBuildTicks: sc => { sc.ticks = Y_TICKS.map(v => ({value: v})); },
          afterFit: sc => { sc.width = 60; sc.paddingTop = 0; sc.paddingBottom = 0; },
          ticks: {padding: 5, color: '#222', font: tickFont, callback: v => String(v)},
          grid: {color: 'rgba(176,176,176,0.75)', lineWidth: 1.1, tickColor: '#222', tickLength: 4},
          border: {display: false}
        }
      }
    },
    plugins: [makeOverlay(p, cvLeft)]
  });
});
</script>
</body>
</html>
